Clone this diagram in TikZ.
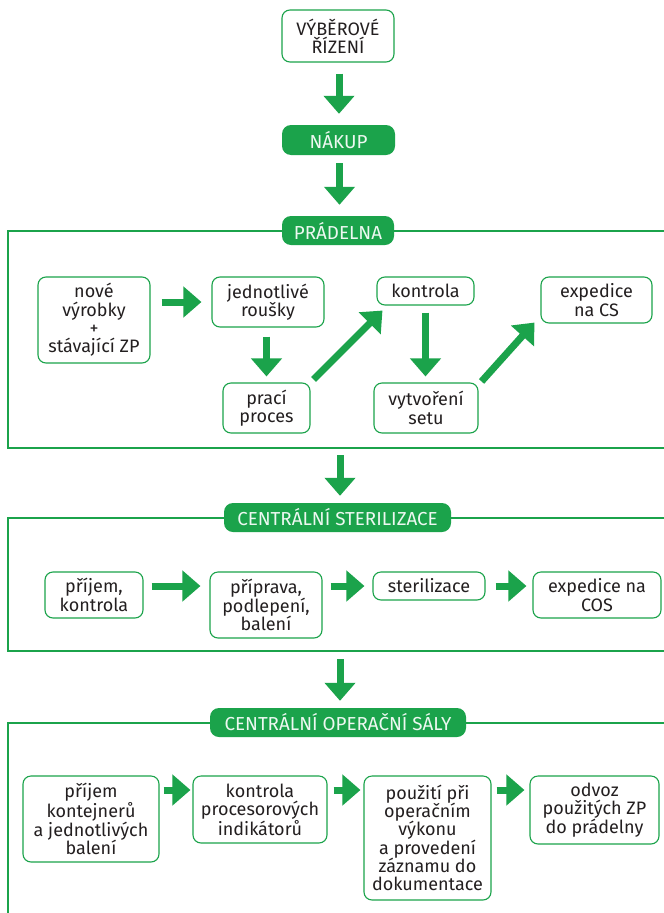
\documentclass[tikz,border=0pt]{standalone}
\usepackage{fontspec}
\setmainfont{Fira Sans}
\usetikzlibrary{arrows.meta}
\definecolor{grn}{HTML}{1BA34B}
\definecolor{txt}{HTML}{231F20}
\begin{document}
\begin{tikzpicture}[x=1pt,y=-1pt,
  box/.style={draw=grn, line width=1.1pt, rounded corners=8pt, fill=white, align=center, text=txt, inner sep=0pt, font=\fontsize{18}{18.3}\selectfont},
  tab/.style={fill=grn, rounded corners=9pt, text=white!92!grn, align=center, inner sep=0pt, font=\fontsize{18.8}{19}\selectfont},
  frameline/.style={draw=grn, line width=1.1pt},
  fat/.style={draw=grn, line width=7pt, -{Triangle[width=30pt,length=18pt]}},
]
\clip (0,0) rectangle (664,913);
\fill[white] (0,0) rectangle (664,913);

% frames
\draw[frameline] (680,231) -- (8,231) -- (8,448) -- (680,448);
\draw[frameline] (680,518) -- (8,518) -- (8,651) -- (680,651);
\draw[frameline] (680,723) -- (8,723) -- (8,930);

% top
\node[box, minimum width=112pt, minimum height=52pt] (vyb) at (338,36) {VÝBĚROVÉ\\ŘÍZENÍ};
\node[tab, minimum width=113pt, minimum height=30pt] (nakup) at (338.5,140) {NÁKUP};

% PRADELNA
\node[tab, minimum width=112pt, minimum height=29pt] (pradtab) at (338,230.5) {PRÁDELNA};
\node[box, minimum width=112pt, minimum height=86pt] (nove) at (94,320) {nové\\výrobky\\+\\stávající ZP};
\node[box, minimum width=112pt, minimum height=50pt] (jedn) at (268,302) {jednotlivé\\roušky};
\node[box, minimum width=87pt, minimum height=50pt] (praci) at (266.5,408) {prací\\proces};
\node[box, minimum width=97pt, minimum height=28pt] (kontr) at (425.5,291) {kontrola};
\node[box, minimum width=104pt, minimum height=50pt] (vytv) at (426,408) {vytvoření\\setu};
\node[box, minimum width=111pt, minimum height=46pt] (expcs) at (596.5,300) {expedice\\na CS};

% CS
\node[tab, minimum width=227pt, minimum height=29pt] (cstab) at (337.5,517.5) {CENTRÁLNÍ STERILIZACE};
\node[box, minimum width=98pt, minimum height=46pt] (prij) at (94,595) {příjem,\\kontrola};
\node[box, minimum width=112pt, minimum height=66pt] (pripr) at (266,605) {příprava,\\podlepení,\\balení};
\node[box, minimum width=112pt, minimum height=28pt] (steril) at (429,586) {sterilizace};
\node[box, minimum width=128pt, minimum height=46pt] (expcos) at (597,595) {expedice na\\COS};

% COS
\node[tab, minimum width=256pt, minimum height=29pt] (costab) at (338,722.5) {CENTRÁLNÍ OPERAČNÍ SÁLY};
\node[box, minimum width=136pt, minimum height=86pt] (prijk) at (91,819) {příjem\\kontejnerů\\a jednotlivých\\balení};
\node[box, minimum width=134pt, minimum height=67pt] (kontp) at (260,809.5) {kontrola\\procesorových\\indikátorů};
\node[box, minimum width=127pt, minimum height=124pt] (pouz) at (427.5,838) {použití při\\operačním\\výkonu\\a provedení\\záznamu do\\dokumentace};
\node[box, minimum width=129pt, minimum height=68pt] (odvoz) at (594.5,810) {odvoz\\použitých ZP\\do prádelny};

\coordinate (f1b) at (340,448);
\coordinate (f2b) at (340,651);
\coordinate (row3) at (0,790);

% main vertical arrows
\draw[fat, shorten <=11pt, shorten >=11pt] ([xshift=1pt]vyb.south) -- ([xshift=1pt]vyb.south |- nakup.north);
\draw[fat, shorten <=8pt, shorten >=11pt] ([xshift=1pt]nakup.south) -- ([xshift=1pt]nakup.south |- pradtab.north);
\draw[fat, shorten <=7pt, shorten >=7pt] (f1b) -- (f1b |- cstab.north);
\draw[fat, shorten <=8pt, shorten >=7pt] (f2b) -- (f2b |- costab.north);

% PRADELNA arrows
\draw[fat, shorten <=11pt, shorten >=10pt] (nove.east |- jedn) -- (jedn.west);
\draw[fat, shorten <=9pt, shorten >=6pt] (praci.north |- jedn.south) -- (praci.north);
\draw[fat] ([shift={(3,-3)}]praci.north east) -- ([shift={(6,5)}]kontr.south west);
\draw[fat, shorten <=7pt, shorten >=6pt] (kontr.south) -- (kontr.south |- vytv.north);
\draw[fat] ([shift={(3,-1)}]vytv.north east) -- ([shift={(-6,-1)}]expcs.south west);

% CS arrows
\draw[fat, shorten <=8pt, shorten >=9pt] (prij.east |- steril) -- (pripr.west |- steril);
\draw[fat, shorten <=8pt, shorten >=8pt] (pripr.east |- steril) -- (steril.west);
\draw[fat, shorten <=10pt, shorten >=6pt] (steril.east) -- (expcos.west |- steril);

% COS arrows
\draw[fat, shorten <=4pt, shorten >=2pt] (prijk.east |- row3) -- (kontp.west |- row3);
\draw[fat, shorten <=6pt, shorten >=3pt] (kontp.east |- row3) -- (pouz.west |- row3);
\draw[fat, shorten <=5pt, shorten >=5pt] (pouz.east |- row3) -- (odvoz.west |- row3);
\end{tikzpicture}
\end{document}
